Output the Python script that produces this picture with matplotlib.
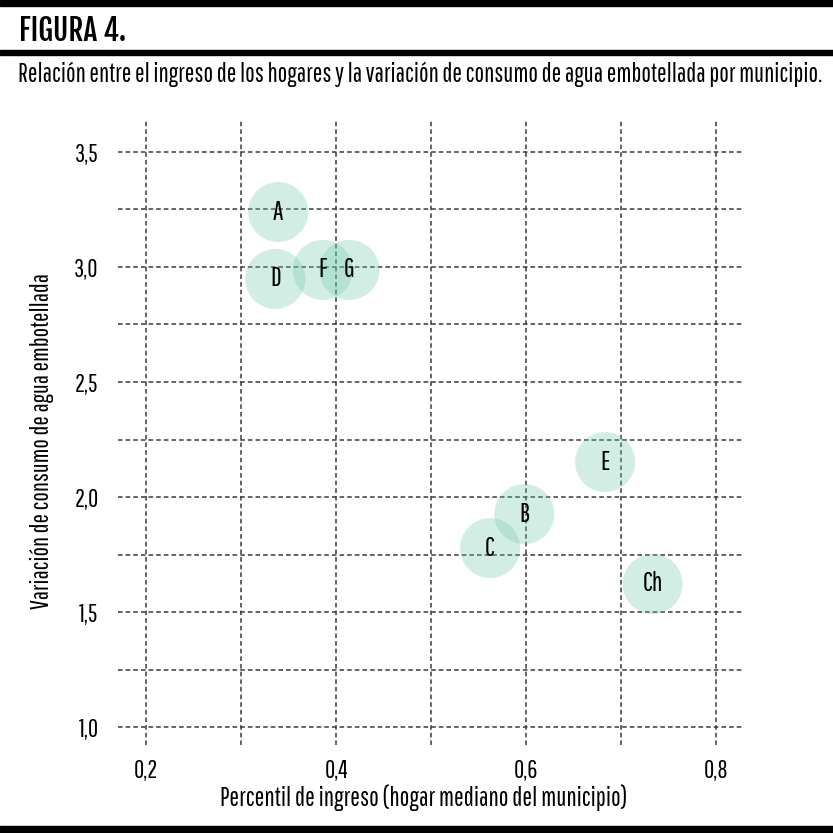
import matplotlib
matplotlib.use('Agg')
import matplotlib.pyplot as plt
from matplotlib.ticker import FuncFormatter, MultipleLocator

plt.rcParams['font.family'] = ['Pathway Gothic One', 'DejaVu Sans']

# datos
municipios = ['A', 'D', 'F', 'G', 'E', 'B', 'C', 'Ch']
percentil_ingreso = [0.339, 0.336, 0.386, 0.414, 0.683, 0.598, 0.562, 0.733]
variacion_consumo = [3.239, 2.948, 2.987, 2.987, 2.152, 1.926, 1.778, 1.622]
xticks = [0.2, 0.4, 0.6, 0.8]
yticks = [1.0, 1.5, 2.0, 2.5, 3.0, 3.5]

fig = plt.figure(figsize=(8.33, 8.33), dpi=100)

# barras negras y titulo
fig.add_artist(plt.Rectangle((0, 1 - 6 / 833), 1, 6 / 833, color='black', transform=fig.transFigure))
fig.add_artist(plt.Rectangle((0, 0), 1, 7 / 833, color='black', transform=fig.transFigure))
fig.add_artist(plt.Rectangle((0, 1 - 55 / 833), 1, 5 / 833, color='black', transform=fig.transFigure))
fig.text(19 / 833, 1 - 41 / 833, 'FIGURA 4.', fontsize=21,
         family=['Fjalla One', 'DejaVu Sans'], va='baseline', ha='left')
fig.text(18 / 833, 1 - 82 / 833,
         'Relación entre el ingreso de los hogares y la variación de consumo de agua embotellada por municipio.',
         fontsize=18.4, va='baseline', ha='left')

ax = fig.add_axes([118 / 833, 1 - 745 / 833, 624 / 833, 625 / 833])
ax.set_xlim(0.1705, 0.827)
ax.set_ylim(0.922, 3.639)

ax.scatter(percentil_ingreso, variacion_consumo, s=1870, color='#6cc7a8', alpha=0.3,
           edgecolors='none', zorder=3)
for lab, x, y in zip(municipios, percentil_ingreso, variacion_consumo):
    ax.text(x, y, lab, fontsize=19, ha='center', va='center', color='black', zorder=4)

ax.xaxis.set_minor_locator(MultipleLocator(0.1))
ax.yaxis.set_minor_locator(MultipleLocator(0.25))
ax.set_xticks(xticks)
ax.set_yticks(yticks)
fmt = FuncFormatter(lambda v, p: f'{v:.1f}'.replace('.', ','))
ax.xaxis.set_major_formatter(fmt)
ax.yaxis.set_major_formatter(fmt)
ax.grid(True, which='both', linestyle=(0, (3, 2)), color='#3a3a3a', linewidth=1.1)
ax.set_axisbelow(True)
ax.tick_params(which='both', length=0, labelsize=18)
ax.tick_params(axis='x', pad=10)
ax.tick_params(axis='y', pad=14)
for s in ax.spines.values():
    s.set_visible(False)

ax.set_xlabel('Percentil de ingreso (hogar mediano del municipio)', fontsize=18.5)
ax.set_ylabel('Variación de consumo de agua embotellada', fontsize=18)
ax.xaxis.set_label_coords(0.4896, -0.063)
ax.yaxis.set_label_coords(-0.103, 0.486)

fig.savefig('out.png', dpi=100)
